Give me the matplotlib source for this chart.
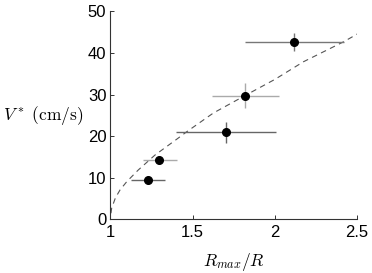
import matplotlib
matplotlib.use("Agg")
import matplotlib.pyplot as plt

plt.rcParams["mathtext.fontset"] = "cm"
plt.rcParams["font.family"] = ["Liberation Sans", "DejaVu Sans"]

# measured points
r_ratio = [1.226, 1.296, 1.701, 1.821, 2.119]
v_star = [9.5, 14.3, 21.0, 29.8, 42.6]
r_lo = [1.125, 1.196, 1.398, 1.618, 1.820]
r_hi = [1.332, 1.403, 2.007, 2.024, 2.421]
v_lo = [9.5, 14.3, 18.3, 26.7, 40.6]
v_hi = [9.5, 14.3, 23.5, 32.7, 44.8]
bar_colors = ["#666666", "#aaaaaa", "#666666", "#aaaaaa", "#777777"]

# dashed fit curve
fit_x = [1.003, 1.007, 1.03, 1.058, 1.099, 1.169, 1.271, 1.403, 1.464, 1.626,
         1.819, 2.001, 2.173, 2.417, 2.502]
fit_y = [1.5, 2.7, 5.2, 7.1, 9.1, 11.9, 15.5, 19.3, 21.1, 25.6,
         29.8, 33.7, 37.9, 42.7, 44.6]

fig = plt.figure(figsize=(3.72, 2.73), dpi=100)
ax = fig.add_axes([0.297, 0.196, 0.663, 0.762])

ax.plot(fit_x, fit_y, linestyle=(0, (5, 4)), color="#555555", linewidth=0.8)

for x, y, xl, xh, yl, yh, c in zip(r_ratio, v_star, r_lo, r_hi, v_lo, v_hi, bar_colors):
    ax.errorbar([x], [y], xerr=[[x - xl], [xh - x]], yerr=[[y - yl], [yh - y]],
                fmt="o", color="black", markersize=5.5, ecolor=c,
                elinewidth=1.0, capsize=0)

ax.set_xlim(1, 2.5)
ax.set_ylim(0, 50)
ax.set_xticks([1, 1.5, 2, 2.5])
ax.set_xticklabels(["1", "1.5", "2", "2.5"])
ax.set_yticks([0, 10, 20, 30, 40, 50])

for s in ["top", "right"]:
    ax.spines[s].set_visible(False)
for s in ["left", "bottom"]:
    ax.spines[s].set_linewidth(0.8)
    ax.spines[s].set_color("#333333")
ax.tick_params(direction="in", length=3, width=0.7, labelsize=12,
               color="#333333")
ax.tick_params(axis="x", pad=4)
ax.tick_params(axis="y", pad=3)

ax.set_xlabel(r"$R_{max}/R$", fontsize=12.5)
ax.xaxis.set_label_coords(0.5, -0.15)
ax.set_ylabel(r"$V^*\ (\mathrm{cm/s})$", fontsize=12.5, rotation=0,
              ha="center", va="center")
ax.yaxis.set_label_coords(-0.275, 0.5)

fig.savefig("out.png", dpi=100)
